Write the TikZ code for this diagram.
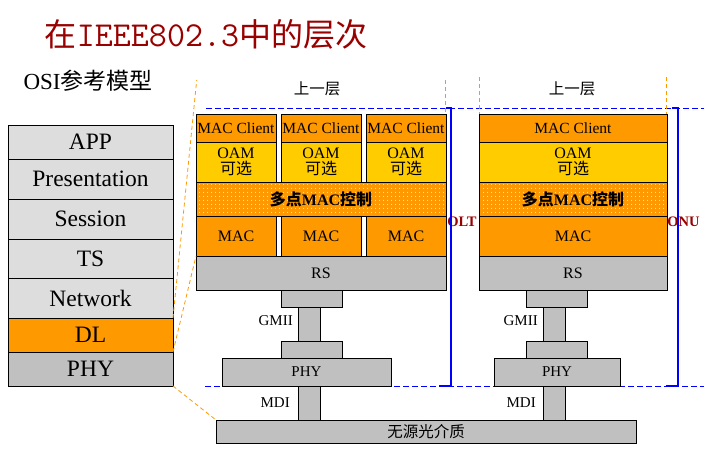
\documentclass[tikz,border=0pt]{standalone}
\usepackage{fontspec}
\setmainfont{Liberation Serif}
\newfontfamily\cjk{Noto Sans CJK SC}
\usepackage{tikz}
\usetikzlibrary{positioning, patterns.meta}
\usepackage{xcolor}
\definecolor{dlorange}{RGB}{255,153,0}
\definecolor{oamyellow}{RGB}{255,204,0}
\definecolor{phygray}{RGB}{192,192,192}
\definecolor{osigray}{RGB}{221,221,221}
\definecolor{titlered}{RGB}{153,0,0}
\newcommand{\fsz}[1]{\fontsize{#1}{#1}\selectfont}

\begin{document}
\begin{tikzpicture}[x=1pt, y=-1pt,
    layer/.style={draw, outer sep=0pt, inner sep=0pt, align=center,
                  font=\fsz{16}},
    osi/.style={layer, fill=osigray, minimum width=165, font=\fsz{23.5}},
    client/.style={layer, fill=dlorange, minimum height=28, font=\fsz{15.5}},
    oam/.style={layer, fill=oamyellow, minimum height=40},
    mpcp/.style={layer, minimum height=34, preaction={fill=dlorange},
                 pattern={Dots[distance=4pt, radius=0.6pt]}, pattern color=white,
                 font=\fsz{16}\bfseries},
    mac/.style={layer, fill=dlorange, minimum height=40},
    rs/.style={layer, fill=phygray, minimum height=34},
    pad/.style={layer, fill=phygray, minimum width=61, minimum height=17},
    bar/.style={layer, fill=phygray, minimum width=22, minimum height=34},
    lbl/.style={inner sep=0pt, font=\fsz{15}},
    tag/.style={inner sep=0pt, font=\fsz{14.5}\bfseries, text=titlered},
    guide/.style={blue, line width=0.8pt, dash pattern=on 6pt off 3pt},
    callout/.style={dlorange, line width=0.8pt, dash pattern=on 4pt off 3pt},
    bracket/.style={blue, line width=2.5pt}
  ]
  \useasboundingbox (0,0) rectangle (704,460);

  % Title
  \node[font=\fsz{32}, text=titlered] (title) at (206,34)
        {{\cjk 在}{\ttfamily\fsz{35}IEEE802.3}{\cjk 中的层次}};
  \node[font=\fsz{23}, anchor=west] (osilbl) at (20,81) {OSI{\cjk 参考模型}};

  % OSI stack
  \node[osi, minimum height=34] (app) at (90.5,142) {APP};
  \node[osi, minimum height=40, below=0pt of app] (pres) {Presentation};
  \node[osi, minimum height=40, below=0pt of pres] (sess) {Session};
  \node[osi, minimum height=39, below=0pt of sess] (ts) {TS};
  \node[osi, minimum height=40, below=0pt of ts] (net) {Network};
  \node[osi, minimum height=34, fill=dlorange, below=0pt of net] (dl) {DL};
  \node[osi, minimum height=34, fill=phygray, below=0pt of dl] (phy) {PHY};

  % Boundaries of the PON layers
  \draw[guide] (206,108) -- (704,108);
  \draw[guide] (205,386) -- (704,386);
  \draw[callout] (445.5,80) -- (445.5,114);
  \draw[callout] (479.3,77) -- (479.3,114);
  \draw[callout] (666.7,77) -- (666.7,114);

  \node[font=\fsz{15.5}] (upolt) at (317,89) {\cjk 上一层};
  \node[font=\fsz{15.5}] (uponu) at (572,89) {\cjk 上一层};

  % OLT
  \foreach \n/\x in {A/236,B/321,C/406}{
    \node[client, minimum width=80] (mc\n) at (\x,128) {MAC Client};
    \node[oam, minimum width=80, below=0pt of mc\n] (oam\n) {OAM\\{\cjk 可选}};
    \node[mac, minimum width=80] (mac\n) at (\x,236) {MAC};
  }
  \node[mpcp, minimum width=250] (mpolt) at (321,199) {{\cjk 多点}MAC{\cjk 控制}};
  \node[rs, minimum width=250, below=0pt of macB] (rsolt) {RS};
  \node[pad] (padAolt) at (311.5,298.5) {};
  \node[bar] (gmiiolt) at (309,324) {};
  \node[pad] (padBolt) at (311.5,349.5) {};
  \node[layer, fill=phygray, minimum width=169, minimum height=28,
        font=\fsz{15}] (phyolt) at (306.5,372) {PHY};
  \node[bar] (mdiolt) at (309,403) {};
  \node[lbl, anchor=east] at (293,321) {GMII};
  \node[lbl, left=8pt of mdiolt] {MDI};

  % ONU
  \node[client, minimum width=188] (mconu) at (573,128) {MAC Client};
  \node[oam, minimum width=188, below=0pt of mconu] (oamonu) {OAM\\{\cjk 可选}};
  \node[mpcp, minimum width=188, below=0pt of oamonu] (mponu) {{\cjk 多点}MAC{\cjk 控制}};
  \node[mac, minimum width=188, below=0pt of mponu] (maconu) {MAC};
  \node[rs, minimum width=188, below=0pt of maconu] (rsonu) {RS};
  \node[pad] (padAonu) at (556.5,298.5) {};
  \node[bar] (gmiionu) at (554,324) {};
  \node[pad] (padBonu) at (556.5,349.5) {};
  \node[layer, fill=phygray, minimum width=126, minimum height=28,
        font=\fsz{15}] (phyonu) at (557,372) {PHY};
  \node[bar] (mdionu) at (554,403) {};
  \node[lbl, anchor=east] at (538,321) {GMII};
  \node[lbl, left=7pt of mdionu] {MDI};

  % Medium
  \node[layer, fill=phygray, minimum width=420, minimum height=23,
        font=\fsz{15.5}] (medium) at (426,431.5) {\cjk 无源光介质};

  % OLT / ONU brackets
  \node[tag] (olt) at (462,222) {OLT};
  \node[tag] (onu) at (683.5,222) {ONU};
  \draw[bracket] (446,108) -- (451,108) -- (451,386) -- (439,386);
  \draw[bracket] (672,108) -- (678,108) -- (678,386) -- (666,386);

  % Zoom from DL
  \coordinate (olttop) at (196.7,80);
  \draw[callout] (dl.north east) -- (olttop);
  \draw[callout] (dl.south east) -- (macA.south west);
  \draw[callout] (phy.south east) -- (medium.north west);
\end{tikzpicture}
\end{document}
